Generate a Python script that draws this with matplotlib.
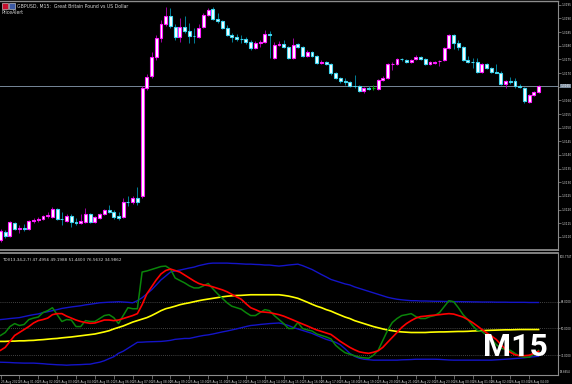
"""MT4-style GBPUSD M15 chart with TDI panel."""
import matplotlib
matplotlib.use('Agg')
import matplotlib.pyplot as plt
import matplotlib.transforms as mtransforms
from matplotlib.patches import Rectangle
import numpy as np

# ------------------------------------------------------------
# Price data (M15 bars)
# ------------------------------------------------------------
OPEN = [1.31089, 1.31118, 1.31104, 1.31151, 1.31129, 1.31133, 1.31129, 1.31159, 1.31162, 1.31166,
        1.31177, 1.31173, 1.31202, 1.31166, 1.31159, 1.31177, 1.31155, 1.31151, 1.31155, 1.31184,
        1.31155, 1.31170, 1.31184, 1.31199, 1.31192, 1.31177, 1.31173, 1.31228, 1.31228, 1.31243,
        1.31250, 1.31645, 1.31689, 1.31759, 1.31828, 1.31880, 1.31909, 1.31869, 1.31832, 1.31869,
        1.31854, 1.31836, 1.31832, 1.31869, 1.31913, 1.31935, 1.31898, 1.31891, 1.31865, 1.31839,
        1.31832, 1.31825, 1.31825, 1.31814, 1.31792, 1.31810, 1.31814, 1.31843, 1.31755, 1.31803,
        1.31806, 1.31795, 1.31755, 1.31806, 1.31795, 1.31762, 1.31777, 1.31762, 1.31737, 1.31741,
        1.31733, 1.31700, 1.31682, 1.31671, 1.31667, 1.31653, 1.31653, 1.31634, 1.31645, 1.31645,
        1.31642, 1.31675, 1.31682, 1.31733, 1.31733, 1.31752, 1.31748, 1.31741, 1.31752, 1.31759,
        1.31752, 1.31733, 1.31737, 1.31743, 1.31748, 1.31792, 1.31839, 1.31810, 1.31795, 1.31748,
        1.31741, 1.31741, 1.31704, 1.31733, 1.31719, 1.31704, 1.31700, 1.31660, 1.31671, 1.31671,
        1.31653, 1.31645, 1.31594, 1.31620, 1.31631]
HIGH = [1.31129, 1.31126, 1.31159, 1.31155, 1.31144, 1.31148, 1.31162, 1.31170, 1.31173, 1.31181,
        1.31192, 1.31210, 1.31206, 1.31192, 1.31184, 1.31184, 1.31170, 1.31184, 1.31206, 1.31188,
        1.31177, 1.31188, 1.31202, 1.31217, 1.31199, 1.31192, 1.31243, 1.31250, 1.31250, 1.31283,
        1.31653, 1.31697, 1.31777, 1.31839, 1.31894, 1.31942, 1.31938, 1.31880, 1.31902, 1.31909,
        1.31883, 1.31865, 1.31880, 1.31920, 1.31938, 1.31942, 1.31920, 1.31894, 1.31876, 1.31847,
        1.31843, 1.31839, 1.31832, 1.31821, 1.31817, 1.31821, 1.31858, 1.31854, 1.31814, 1.31817,
        1.31821, 1.31799, 1.31828, 1.31810, 1.31799, 1.31784, 1.31781, 1.31766, 1.31748, 1.31744,
        1.31737, 1.31704, 1.31686, 1.31682, 1.31671, 1.31693, 1.31656, 1.31649, 1.31653, 1.31656,
        1.31678, 1.31689, 1.31737, 1.31741, 1.31755, 1.31755, 1.31752, 1.31752, 1.31766, 1.31762,
        1.31755, 1.31744, 1.31744, 1.31748, 1.31795, 1.31843, 1.31843, 1.31821, 1.31799, 1.31762,
        1.31755, 1.31755, 1.31737, 1.31737, 1.31722, 1.31733, 1.31708, 1.31675, 1.31686, 1.31682,
        1.31660, 1.31649, 1.31623, 1.31634, 1.31656]
LOW = [1.31082, 1.31096, 1.31100, 1.31126, 1.31115, 1.31122, 1.31126, 1.31151, 1.31155, 1.31162,
       1.31170, 1.31170, 1.31162, 1.31144, 1.31155, 1.31137, 1.31144, 1.31148, 1.31151, 1.31151,
       1.31151, 1.31166, 1.31181, 1.31188, 1.31166, 1.31162, 1.31170, 1.31213, 1.31221, 1.31217,
       1.31243, 1.31638, 1.31682, 1.31748, 1.31814, 1.31872, 1.31865, 1.31821, 1.31814, 1.31847,
       1.31810, 1.31810, 1.31828, 1.31865, 1.31909, 1.31894, 1.31883, 1.31861, 1.31836, 1.31814,
       1.31817, 1.31810, 1.31806, 1.31784, 1.31788, 1.31795, 1.31810, 1.31755, 1.31752, 1.31799,
       1.31792, 1.31752, 1.31752, 1.31792, 1.31759, 1.31759, 1.31759, 1.31733, 1.31733, 1.31730,
       1.31693, 1.31678, 1.31664, 1.31656, 1.31649, 1.31645, 1.31631, 1.31627, 1.31638, 1.31638,
       1.31638, 1.31671, 1.31678, 1.31711, 1.31730, 1.31744, 1.31737, 1.31737, 1.31748, 1.31748,
       1.31730, 1.31730, 1.31733, 1.31726, 1.31744, 1.31788, 1.31788, 1.31784, 1.31744, 1.31737,
       1.31719, 1.31700, 1.31700, 1.31715, 1.31700, 1.31700, 1.31656, 1.31645, 1.31660, 1.31645,
       1.31645, 1.31590, 1.31590, 1.31616, 1.31627]
CLOSE = [1.31122, 1.31104, 1.31155, 1.31129, 1.31131, 1.31129, 1.31159, 1.31162, 1.31166, 1.31177,
         1.31181, 1.31202, 1.31166, 1.31164, 1.31177, 1.31155, 1.31151, 1.31159, 1.31184, 1.31155,
         1.31173, 1.31184, 1.31199, 1.31192, 1.31173, 1.31170, 1.31228, 1.31226, 1.31243, 1.31228,
         1.31645, 1.31686, 1.31759, 1.31828, 1.31880, 1.31909, 1.31872, 1.31832, 1.31869, 1.31854,
         1.31836, 1.31834, 1.31865, 1.31913, 1.31931, 1.31898, 1.31891, 1.31865, 1.31839, 1.31832,
         1.31825, 1.31823, 1.31814, 1.31792, 1.31810, 1.31814, 1.31843, 1.31841, 1.31803, 1.31806,
         1.31795, 1.31755, 1.31803, 1.31795, 1.31762, 1.31777, 1.31762, 1.31737, 1.31741, 1.31733,
         1.31700, 1.31682, 1.31671, 1.31667, 1.31653, 1.31651, 1.31634, 1.31645, 1.31643, 1.31645,
         1.31675, 1.31682, 1.31733, 1.31735, 1.31752, 1.31750, 1.31741, 1.31748, 1.31759, 1.31752,
         1.31733, 1.31741, 1.31741, 1.31746, 1.31792, 1.31839, 1.31810, 1.31795, 1.31748, 1.31741,
         1.31739, 1.31704, 1.31733, 1.31719, 1.31704, 1.31702, 1.31660, 1.31671, 1.31669, 1.31653,
         1.31649, 1.31598, 1.31620, 1.31631, 1.31653]

# ------------------------------------------------------------
# TDI indicator lines
# ------------------------------------------------------------
TDI_UPPER = [56.0, 56.3, 56.7, 57.0, 57.3, 58.0, 58.7, 59.3, 59.8, 60.7,
             61.3, 62.0, 62.7, 63.5, 64.0, 64.5, 64.9, 65.3, 65.9, 66.3,
             66.8, 67.3, 67.5, 67.7, 67.8, 68.0, 67.8, 67.6, 67.3, 68.7,
             70.7, 73.3, 76.0, 79.3, 82.7, 85.3, 88.0, 88.7, 89.3, 90.0,
             90.7, 91.3, 92.3, 93.0, 93.7, 94.0, 94.0, 94.0, 94.0, 93.8,
             93.7, 93.5, 93.3, 93.3, 93.1, 93.0, 92.7, 92.7, 92.3, 92.0,
             92.3, 92.7, 93.0, 93.3, 92.3, 91.0, 89.7, 88.0, 86.3, 84.7,
             83.0, 82.0, 81.0, 80.0, 79.3, 78.0, 77.0, 76.0, 75.0, 74.0,
             73.0, 72.0, 71.0, 70.3, 69.7, 69.3, 69.0, 68.7, 68.7, 68.5,
             68.5, 68.4, 68.3, 68.3, 68.2, 68.2, 68.1, 68.1, 68.0, 68.0,
             67.9, 67.9, 67.8, 67.8, 67.8, 67.7, 67.7, 67.7, 67.6, 67.6,
             67.6, 67.6, 67.5, 67.5, 67.5]
TDI_LOWER = [27.3, 27.2, 27.1, 26.9, 26.8, 26.7, 26.7, 26.7, 26.5, 26.3,
             26.0, 25.8, 25.6, 25.5, 25.3, 25.5, 25.6, 25.7, 25.9, 26.0,
             26.7, 27.3, 28.3, 29.7, 31.0, 33.3, 34.7, 36.7, 38.7, 40.7,
             40.8, 41.0, 41.1, 41.2, 41.3, 41.6, 42.0, 42.7, 43.0, 43.3,
             43.3, 44.0, 44.7, 45.3, 45.7, 46.3, 47.0, 47.7, 48.3, 49.0,
             49.7, 50.5, 51.3, 52.0, 52.3, 52.7, 53.0, 53.3, 53.5, 53.7,
             53.0, 52.0, 50.7, 49.7, 48.7, 47.7, 46.7, 45.3, 44.0, 42.7,
             41.7, 40.7, 39.0, 36.3, 33.3, 31.3, 30.0, 29.3, 29.0, 28.7,
             28.7, 28.7, 28.7, 28.7, 28.7, 28.9, 29.0, 29.1, 29.3, 29.3,
             29.3, 29.3, 29.3, 29.2, 29.0, 28.8, 28.7, 28.7, 28.7, 28.7,
             28.7, 28.7, 28.7, 28.7, 28.7, 28.9, 29.1, 29.3, 29.5, 29.8,
             30.0, 30.3, 30.7, 31.0, 31.3]
TDI_BASE = [41.3, 41.3, 41.5, 41.5, 41.7, 41.7, 41.9, 42.0, 42.3, 42.5,
            42.8, 43.1, 43.3, 43.7, 44.0, 44.3, 44.7, 45.1, 45.5, 45.9,
            46.3, 47.0, 47.7, 48.5, 49.7, 50.7, 51.7, 53.0, 54.3, 55.3,
            56.3, 57.3, 58.7, 60.3, 62.0, 63.3, 64.1, 65.0, 66.0, 66.7,
            67.3, 68.0, 68.7, 69.3, 69.8, 70.3, 70.8, 71.3, 71.7, 72.0,
            72.2, 72.3, 72.5, 72.7, 72.7, 72.7, 72.7, 72.7, 72.7, 72.7,
            72.3, 71.8, 71.1, 70.3, 69.0, 67.7, 66.3, 65.0, 64.0, 62.7,
            61.7, 60.3, 59.0, 57.7, 56.7, 55.3, 54.3, 53.3, 52.3, 51.3,
            50.5, 49.7, 49.0, 48.5, 48.0, 47.7, 47.5, 47.3, 47.3, 47.3,
            47.3, 47.5, 47.6, 47.7, 47.7, 47.8, 47.9, 48.0, 48.0, 48.1,
            48.3, 48.4, 48.5, 48.7, 48.8, 48.9, 49.0, 49.1, 49.1, 49.2,
            49.3, 49.3, 49.3, 49.3, 49.3]
TDI_RSI = [45.3, 47.3, 51.3, 53.3, 52.0, 52.7, 56.0, 57.0, 57.7, 60.7,
           62.0, 64.0, 59.3, 54.7, 56.0, 55.7, 51.3, 51.3, 55.3, 54.7,
           54.7, 56.7, 58.7, 59.3, 57.3, 53.3, 58.7, 64.0, 63.3, 63.3,
           88.0, 88.7, 89.7, 90.7, 91.7, 92.0, 90.0, 84.0, 82.3, 80.7,
           78.7, 77.3, 77.3, 78.7, 80.3, 76.7, 73.3, 70.3, 67.3, 65.0,
           64.0, 63.0, 60.7, 58.7, 58.7, 60.7, 62.7, 62.0, 58.7, 56.0,
           53.3, 50.0, 50.0, 54.0, 50.0, 49.0, 48.3, 46.3, 45.3, 44.3,
           43.0, 38.7, 36.0, 33.7, 32.7, 31.7, 30.7, 30.3, 30.0, 32.0,
           35.3, 42.0, 48.7, 54.0, 56.7, 58.7, 59.3, 60.0, 58.0, 56.7,
           56.7, 58.0, 58.7, 60.7, 64.7, 68.7, 68.0, 64.0, 59.3, 56.0,
           52.0, 48.7, 48.0, 45.3, 42.7, 39.3, 36.7, 36.0, 35.3, 33.3,
           31.3, 30.7, 30.7, 32.7, 35.3]
TDI_SIGNAL = [35.3, 37.3, 41.3, 45.3, 47.3, 49.3, 51.3, 53.7, 55.3, 56.0,
              57.0, 59.3, 60.0, 60.0, 58.3, 57.0, 55.7, 54.7, 54.0, 53.5,
              53.7, 54.7, 55.7, 55.7, 55.3, 55.7, 56.7, 57.7, 58.7, 60.0,
              66.0, 73.3, 78.0, 82.7, 86.7, 89.0, 90.0, 89.0, 88.0, 86.0,
              84.0, 82.0, 80.3, 79.3, 78.9, 78.0, 77.0, 76.0, 74.7, 73.0,
              71.3, 69.7, 66.7, 64.0, 62.7, 61.3, 61.0, 60.7, 60.0, 59.3,
              58.3, 57.0, 55.7, 54.3, 53.0, 51.7, 50.3, 49.0, 48.0, 47.0,
              46.0, 43.7, 41.3, 39.3, 37.3, 35.7, 34.3, 33.7, 33.3, 34.0,
              35.0, 37.3, 40.7, 44.0, 47.3, 50.7, 53.3, 55.3, 57.0, 58.0,
              58.3, 58.7, 59.0, 59.3, 59.7, 60.0, 59.7, 58.7, 57.7, 56.0,
              54.0, 51.7, 49.3, 47.0, 45.0, 42.7, 39.3, 36.0, 34.0, 32.3,
              31.7, 31.7, 32.0, 33.3, 34.7]
TDI_LEVELS = [68, 50, 32]

PRICE_TICKS = [1.3195, 1.3190, 1.3185, 1.3180, 1.3175, 1.3170, 1.3165, 1.3160, 1.3155,
               1.3150, 1.3145, 1.3140, 1.3135, 1.3130, 1.3125, 1.3120, 1.3115, 1.3110]

TIME_LABELS = ['25 Aug 2020', '25 Aug 01:00', '25 Aug 02:00', '25 Aug 03:00', '25 Aug 04:00',
               '25 Aug 05:00', '25 Aug 06:00', '25 Aug 07:00', '25 Aug 08:00', '25 Aug 09:00',
               '25 Aug 10:00', '25 Aug 11:00', '25 Aug 12:00', '25 Aug 13:00', '25 Aug 14:00',
               '25 Aug 15:00', '25 Aug 16:00', '25 Aug 17:00', '25 Aug 18:00', '25 Aug 19:00',
               '25 Aug 20:00', '25 Aug 21:00', '25 Aug 22:00', '25 Aug 23:00', '26 Aug 00:00',
               '26 Aug 01:00', '26 Aug 02:00', '26 Aug 03:00', '26 Aug 04:00']

TITLE = 'GBPUSD, M15:  Great Britain Pound vs US Dollar'
TDI_LABEL = 'TDI(13,34,2,7) 47.4956 49.1988 51.4403 76.5632 34.9862'

# ------------------------------------------------------------
# Styling
# ------------------------------------------------------------
BG = '#000000'
AXIS_COL = '#8c8c8c'
TEXT_COL = '#d8d8d8'
BULL_EDGE, BULL_WICK = '#ff1aff', '#a000a0'
BEAR_EDGE, BEAR_WICK = '#3fd6f0', '#00809a'
DOJI_COL = '#00b000'
FS = 3.3       # header text
FS_AX = 2.1    # axis labels

o = np.array(OPEN)
h = np.array(HIGH)
l = np.array(LOW)
c = np.array(CLOSE)
x = np.arange(len(o))

W, H = 572, 384
fig = plt.figure(figsize=(W / 100, H / 100), dpi=100, facecolor=BG)
ax = fig.add_axes([0, 1 - 250 / H, 558 / W, 249 / H], facecolor=BG)
ax2 = fig.add_axes([0, 1 - 375 / H, 558 / W, 122 / H], facecolor=BG)

XLIM = (-0.106, 118.11)

# ---- candles ----
bull = c > o
bear = c < o
wick_cols = np.where(bull, BULL_WICK, np.where(bear, BEAR_WICK, DOJI_COL))
ax.vlines(x, l, h, colors=wick_cols, linewidth=0.7, zorder=2)
edge_cols = np.where(bull, BULL_EDGE, np.where(bear, BEAR_EDGE, DOJI_COL))
ax.bar(x, np.abs(c - o), bottom=np.minimum(o, c), width=0.62, color='white',
       edgecolor=edge_cols, linewidth=0.8, zorder=3)

# bid line
ax.axhline(c[-1], color='#778899', linewidth=0.7, zorder=1)

ax.set_xlim(*XLIM)
ax.set_ylim(1.31052, 1.31964)
ax.yaxis.tick_right()
ax.set_yticks(PRICE_TICKS)
ax.set_yticklabels([f'{v:.4f}' for v in PRICE_TICKS])
ax.tick_params(axis='y', colors=AXIS_COL, labelcolor=TEXT_COL, labelsize=FS_AX,
               length=2, width=0.5, pad=0.8)
ax.set_xticks([])
ax.spines['left'].set_visible(False)
for side in ['top', 'right', 'bottom']:
    ax.spines[side].set_color(AXIS_COL)
ax.spines['bottom'].set_linewidth(1.3)
ax.spines['top'].set_linewidth(1.0)
ax.spines['right'].set_linewidth(0.8)

blend = mtransforms.blended_transform_factory(ax.transAxes, ax.transData)
ax.text(1.005, c[-1], f'{c[-1]:.4f}', transform=blend, fontsize=FS_AX, color='white',
        va='center', ha='left',
        bbox=dict(boxstyle='square,pad=0.12', fc='#778899', ec='none'))

# ---- TDI panel ----
ax2.plot(x, TDI_UPPER, color='#1414c8', linewidth=1.0, zorder=2)
ax2.plot(x, TDI_LOWER, color='#1414c8', linewidth=1.0, zorder=2)
ax2.plot(x, TDI_BASE, color='#ffff00', linewidth=1.2, zorder=3)
ax2.plot(x, TDI_RSI, color='#0a850a', linewidth=1.1, zorder=4)
ax2.plot(x, TDI_SIGNAL, color='#ff0000', linewidth=1.2, zorder=5)
for lev in TDI_LEVELS:
    ax2.axhline(lev, color='#5a5a5a', linewidth=0.6, linestyle=(0, (1, 1.5)), zorder=1)

ax2.set_xlim(*XLIM)
ax2.set_ylim(18.7, 100.8)
ax2.yaxis.tick_right()
ax2.set_yticks(TDI_LEVELS)
ax2.set_yticklabels([f'{v:.4f}' for v in TDI_LEVELS])
ax2.tick_params(axis='y', colors=AXIS_COL, labelcolor=TEXT_COL, labelsize=1.9,
                length=1.5, width=0.5, pad=0.5)
ax2.set_xticks(np.arange(0, len(TIME_LABELS) * 4, 4))
ax2.set_xticklabels(TIME_LABELS, ha='left')
ax2.tick_params(axis='x', colors=AXIS_COL, labelcolor=TEXT_COL, labelsize=FS_AX,
                length=3, width=0.5, pad=0.8)
ax2.spines['left'].set_visible(False)
for side in ['top', 'right', 'bottom']:
    ax2.spines[side].set_color(AXIS_COL)
ax2.spines['top'].set_linewidth(1.3)
ax2.spines['right'].set_linewidth(0.8)
ax2.spines['bottom'].set_linewidth(0.8)

ax2.text(1.003, 0.985, '100.7747', transform=ax2.transAxes, fontsize=1.9,
         color=TEXT_COL, va='top', ha='left')
ax2.text(1.003, 0.01, '18.6654', transform=ax2.transAxes, fontsize=1.9,
         color=TEXT_COL, va='bottom', ha='left')
ax2.text(0.004, 0.955, TDI_LABEL, transform=ax2.transAxes, fontsize=FS * 0.9,
         color=TEXT_COL, va='top', ha='left')

# ---- header ----
fig.patches.append(Rectangle((2 / W, 1 - 9 / H), 6 / W, 6 / H, transform=fig.transFigure,
                             fc='#c8102e', ec='#e0e0e0', lw=0.4))
fig.patches.append(Rectangle((9 / W, 1 - 9 / H), 6 / W, 6 / H, transform=fig.transFigure,
                             fc='#3c5aa6', ec='#e0e0e0', lw=0.4))
fig.text(17 / W, 1 - 6 / H, TITLE, fontsize=FS, color=TEXT_COL, va='center', ha='left')
fig.text(2 / W, 1 - 13 / H, 'PriceAlert', fontsize=FS, color=TEXT_COL, va='center', ha='left')

# ---- timeframe watermark ----
fig.text(515 / W, 1 - 347 / H, 'M15', fontsize=23, color='white', ha='center', va='center',
         family=['Liberation Sans Narrow', 'Roboto', 'DejaVu Sans'], weight='bold')

plt.savefig('out.png', dpi=100, facecolor=BG)
plt.close()
